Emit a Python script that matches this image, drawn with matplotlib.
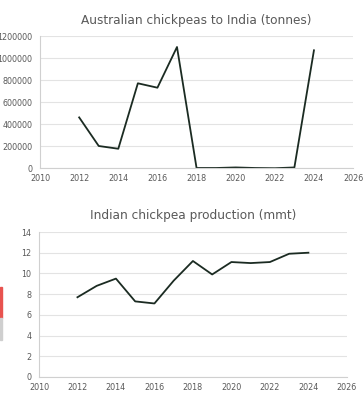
import matplotlib.pyplot as plt
from matplotlib.patches import Rectangle
from matplotlib.ticker import StrMethodFormatter

plt.rcParams['font.family'] = ['DejaVu Sans']

years = [2012, 2013, 2014, 2015, 2016, 2017, 2018, 2019, 2020, 2021, 2022, 2023, 2024]
aus_exports = [460000, 200000, 175000, 770000, 730000, 1100000, 0, 0, 5000, 0, -2000, 5000, 1070000]
india_prod = [7.7, 8.8, 9.5, 7.3, 7.1, 9.3, 11.2, 9.9, 11.1, 11.0, 11.1, 11.9, 12.0]

line_col = "#1b2b22"
text_col = "#595959"
grid_col = "#e3e3e3"

fig = plt.figure(figsize=(3.64, 4.0), dpi=100)

ax1 = fig.add_axes([0.110, 0.58, 0.860, 0.33])
ax2 = fig.add_axes([0.107, 0.0575, 0.846, 0.3625])


def style(ax):
    for s in ["top", "right"]:
        ax.spines[s].set_visible(False)
    for s in ["left", "bottom"]:
        ax.spines[s].set_color("#d0d0d0")
        ax.spines[s].set_linewidth(0.8)
    ax.grid(axis="y", color=grid_col, linewidth=0.8)
    ax.set_axisbelow(True)
    ax.tick_params(length=0, labelsize=5.8, colors=text_col)
    ax.tick_params(axis="y", pad=5.5)
    ax.tick_params(axis="x", pad=4.5)
    ax.set_xlim(2010, 2026)
    ax.set_xticks(range(2010, 2027, 2))


ax1.plot(years, aus_exports, color=line_col, linewidth=1.3)
style(ax1)
ax1.set_ylim(0, 1200000)
ax1.set_yticks(range(0, 1200001, 200000))
ax1.yaxis.set_major_formatter(StrMethodFormatter("{x:.0f}"))
ax1.set_title("Australian chickpeas to India (tonnes)", fontsize=8.7, color=text_col, pad=9)

ax2.plot(years, india_prod, color=line_col, linewidth=1.3)
style(ax2)
ax2.set_ylim(0, 14)
ax2.set_yticks(range(0, 15, 2))
ax2.set_title("Indian chickpea production (mmt)", fontsize=8.7, color=text_col, pad=9)

# small red sliver on the left edge of the image
fig.patches.append(Rectangle((0, 1 - 318 / 400), 1.5 / 364, 31 / 400,
                             transform=fig.transFigure, color="#e8534f", zorder=5))
fig.patches.append(Rectangle((0, 1 - 340 / 400), 1.5 / 364, 22 / 400,
                             transform=fig.transFigure, color="#cfcfcf", zorder=5))

fig.savefig("out.png", dpi=100)
